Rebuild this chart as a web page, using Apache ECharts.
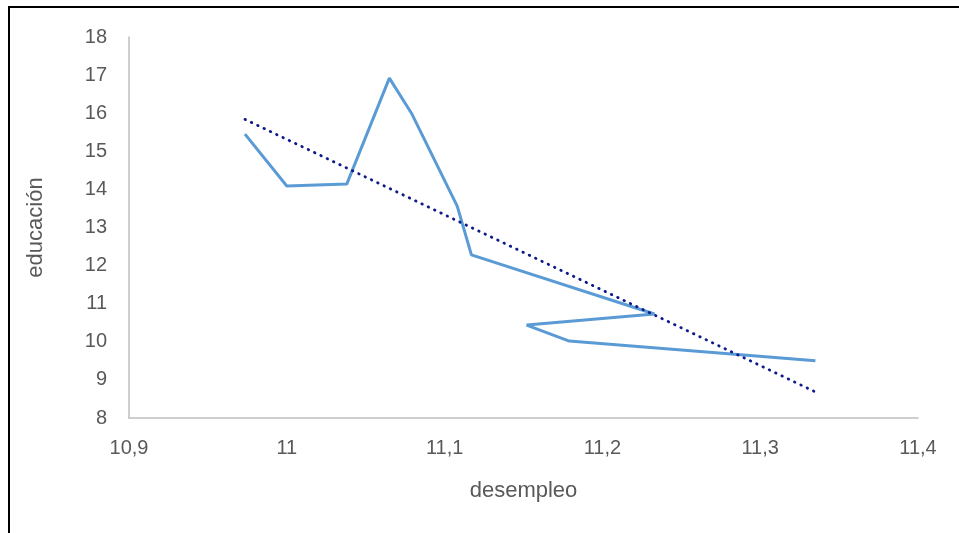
<!DOCTYPE html>
<html>
<head>
<meta charset="utf-8">
<script src="https://cdn.jsdelivr.net/npm/echarts@6/dist/echarts.min.js"></script>
<style>
html,body{margin:0;padding:0;background:#fff;}
#chart{width:959px;height:533px;}
</style>
</head>
<body>
<div id="chart"></div>
<script>
// Data (desempleo, educación)
const desempleo = [10.9735, 11.000, 11.038, 11.065, 11.079, 11.108, 11.117, 11.233, 11.152, 11.179, 11.335];
const educacion = [15.45, 14.09, 14.14, 16.92, 16.00, 13.56, 12.28, 10.73, 10.44, 10.02, 9.50];
const xTicks = [10.9, 11.0, 11.1, 11.2, 11.3, 11.4];
const yTicks = [8, 9, 10, 11, 12, 13, 14, 15, 16, 17, 18];
const xName = 'desempleo';
const yName = 'educación';

// linear regression trendline
const n = desempleo.length;
const mx = desempleo.reduce((a, b) => a + b, 0) / n;
const my = educacion.reduce((a, b) => a + b, 0) / n;
let sxy = 0, sxx = 0;
for (let i = 0; i < n; i++) { sxy += (desempleo[i] - mx) * (educacion[i] - my); sxx += (desempleo[i] - mx) ** 2; }
const slope = sxy / sxx, icpt = my - slope * mx;
const xMinD = Math.min(...desempleo), xMaxD = Math.max(...desempleo);
const trend = [[xMinD, icpt + slope * xMinD], [xMaxD, icpt + slope * xMaxD]];

const chart = echarts.init(document.getElementById('chart'), null, {renderer: 'canvas'});
const font = 'Liberation Sans, Arial, sans-serif';
chart.setOption({
  animation: false,
  backgroundColor: '#fff',
  grid: {left: 129, right: 41, top: 37, bottom: 115, containLabel: false},
  graphic: [
    {type: 'line', shape: {x1: 8, y1: 7, x2: 959, y2: 7}, style: {stroke: '#000', lineWidth: 2}},
    {type: 'line', shape: {x1: 9, y1: 7, x2: 9, y2: 533}, style: {stroke: '#000', lineWidth: 2}}
  ],
  xAxis: {
    type: 'value', min: xTicks[0], max: xTicks[xTicks.length - 1], interval: 0.1,
    name: xName, nameLocation: 'middle', nameGap: 62,
    nameTextStyle: {color: '#595959', fontSize: 22, fontFamily: font},
    axisLine: {show: true, lineStyle: {color: '#BFBFBF', width: 1.5}},
    axisTick: {show: false}, splitLine: {show: false},
    axisLabel: {color: '#595959', fontSize: 20, fontFamily: font, margin: 20,
      formatter: v => String(Number(v.toFixed(1))).replace('.', ',')}
  },
  yAxis: {
    type: 'value', min: yTicks[0], max: yTicks[yTicks.length - 1], interval: 1,
    name: yName, nameLocation: 'middle', nameGap: 82,
    nameTextStyle: {color: '#595959', fontSize: 22, fontFamily: font},
    axisLine: {show: true, lineStyle: {color: '#BFBFBF', width: 1.5}},
    axisTick: {show: false}, splitLine: {show: false},
    axisLabel: {color: '#595959', fontSize: 20, fontFamily: font, margin: 22}
  },
  series: [
    {type: 'line', data: desempleo.map((x, i) => [x, educacion[i]]), showSymbol: false,
      lineStyle: {color: '#5B9BD5', width: 3}, itemStyle: {color: '#5B9BD5'}, z: 2},
    {type: 'line', data: trend, showSymbol: false,
      lineStyle: {color: '#0E1A8A', width: 2.8, type: [0.5, 6.5], cap: 'round'}, z: 3}
  ]
});
</script>
</body>
</html>
